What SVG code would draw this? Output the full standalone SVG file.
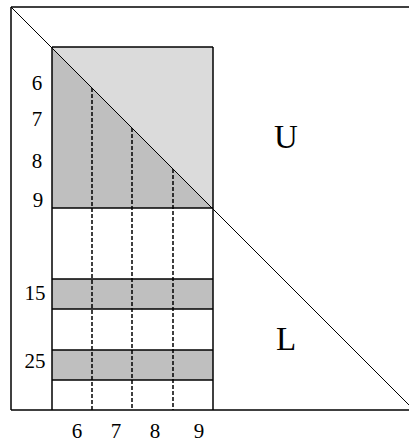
<svg xmlns="http://www.w3.org/2000/svg" width="409" height="445" viewBox="0 0 409 445">
<style>
.ln{stroke:#000;stroke-width:1.5;fill:none}
.thin{stroke:#000;stroke-width:1;fill:none}
.dash{stroke:#000;stroke-width:1.5;stroke-dasharray:4 2;fill:none}
.dark{fill:#bfbfbf}
.light{fill:#dbdbdb}
.num{font-family:"Liberation Serif",serif;font-size:21px;fill:#000;text-anchor:middle}
.big{font-family:"Liberation Serif",serif;font-size:33px;fill:#000;text-anchor:middle}
</style>
<rect width="409" height="445" fill="#fff"/>
<g id="block">
<polygon class="light" points="52,47 213,47 213,208"/>
<polygon class="dark" points="52,47 52,208 213,208"/>
<rect class="dark" x="52" y="279" width="161" height="30"/>
<rect class="dark" x="52" y="350" width="161" height="30"/>
<line class="ln" x1="52" y1="47" x2="213" y2="47"/>
<line class="ln" x1="52" y1="47" x2="52" y2="410"/>
<line class="ln" x1="213" y1="47" x2="213" y2="410"/>
<line class="ln" x1="52" y1="208" x2="213" y2="208"/>
<line class="ln" x1="52" y1="279" x2="213" y2="279"/>
<line class="ln" x1="52" y1="309" x2="213" y2="309"/>
<line class="ln" x1="52" y1="350" x2="213" y2="350"/>
<line class="ln" x1="52" y1="380" x2="213" y2="380"/>
</g>
<g id="connectors">
<line class="dash" x1="92" y1="88" x2="92" y2="410"/>
<line class="dash" x1="132" y1="128" x2="132" y2="410"/>
<line class="dash" x1="173" y1="169" x2="173" y2="410"/>
</g>
<g id="frame">
<line class="ln" x1="11" y1="7" x2="410" y2="7"/>
<line class="ln" x1="11" y1="7" x2="11" y2="410"/>
<line class="ln" x1="11" y1="410" x2="410" y2="410"/>
<line class="thin" x1="11" y1="7" x2="409" y2="405"/>
</g>
<g id="labels">
<text class="num" x="37" y="90">6</text>
<text class="num" x="37" y="126">7</text>
<text class="num" x="37" y="168">8</text>
<text class="num" x="38" y="207">9</text>
<text class="num" x="35" y="300">15</text>
<text class="num" x="35" y="368">25</text>
<text class="num" x="77" y="438">6</text>
<text class="num" x="116" y="438">7</text>
<text class="num" x="155" y="438">8</text>
<text class="num" x="199" y="438">9</text>
<text class="big" x="286" y="148">U</text>
<text class="big" x="286" y="350">L</text>
</g>
</svg>
